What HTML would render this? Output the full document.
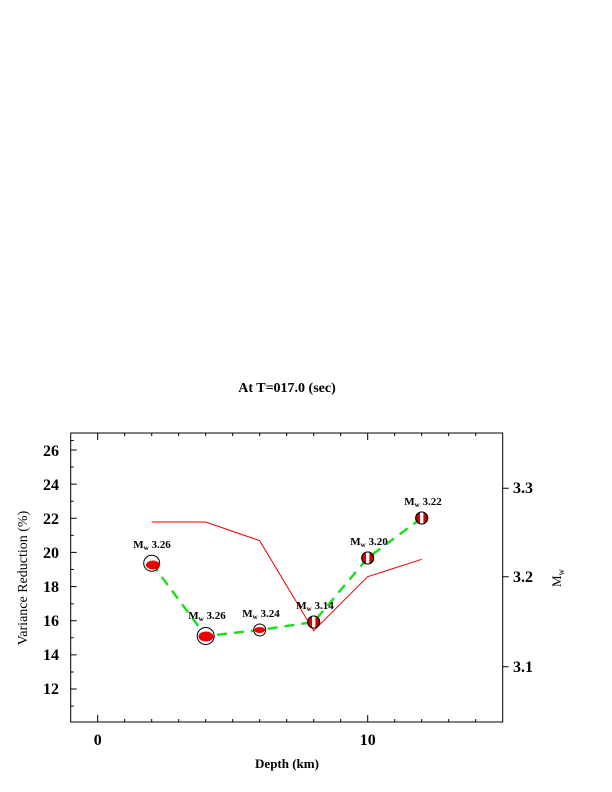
<!DOCTYPE html>
<html><head><meta charset="utf-8"><style>
html,body{margin:0;padding:0;background:#fff;}
svg{display:block;}
text{font-family:"Liberation Serif",serif;font-weight:bold;fill:#000;}
</style></head><body>
<svg width="612" height="792" viewBox="0 0 612 792" xmlns="http://www.w3.org/2000/svg">
<text x="287" y="392" font-size="14" text-anchor="middle">At T=017.0 (sec)</text>
<rect x="70.7" y="433" width="432" height="289" fill="none" stroke="#000" stroke-width="1"/>
<g stroke="#000" stroke-width="1">
<path d="M97.7 722v-7M124.7 722v-3M151.7 722v-3M178.7 722v-3M205.7 722v-3M232.7 722v-3M259.7 722v-3M286.7 722v-3M313.7 722v-3M340.7 722v-3M367.7 722v-7M394.7 722v-3M421.7 722v-3M448.7 722v-3M475.7 722v-3"/>
<path d="M97.7 433v7M124.7 433v3M151.7 433v3M178.7 433v3M205.7 433v3M232.7 433v3M259.7 433v3M286.7 433v3M313.7 433v3M340.7 433v3M367.7 433v7M394.7 433v3M421.7 433v3M448.7 433v3M475.7 433v3"/>
<path d="M70.7 450h6M70.7 484.1h6M70.7 518.3h6M70.7 552.4h6M70.7 586.6h6M70.7 620.7h6M70.7 654.9h6M70.7 689h6"/>
<path d="M70.7 467h3M70.7 501.2h3M70.7 535.4h3M70.7 569.5h3M70.7 603.7h3M70.7 637.8h3M70.7 672h3M70.7 706.1h3M70.7 440.5h3"/>
<path d="M502.7 488.3h6M502.7 576.7h6M502.7 666.7h6"/>
</g>
<g font-size="16" text-anchor="end">
<text x="59" y="456">26</text><text x="59" y="490">24</text><text x="59" y="524">22</text><text x="59" y="558">20</text>
<text x="59" y="592">18</text><text x="59" y="626">16</text><text x="59" y="660">14</text><text x="59" y="694">12</text>
</g>
<g font-size="16">
<text x="513" y="493">3.3</text><text x="513" y="582">3.2</text><text x="513" y="672">3.1</text>
</g>
<g font-size="16" text-anchor="middle">
<text x="97.7" y="745">0</text><text x="367.7" y="745">10</text>
</g>
<text x="287" y="768" font-size="13" text-anchor="middle">Depth (km)</text>
<text transform="translate(27,578) rotate(-90)" font-size="14" text-anchor="middle" style="font-weight:normal">Variance Reduction (%)</text>
<text transform="translate(561,578) rotate(-90)" font-size="13" text-anchor="middle" style="font-weight:normal">M<tspan font-size="9" dy="3">w</tspan></text>
<polyline points="151.7,522 205.7,522 259.7,540.7 313.7,630.7 367.7,576.7 421.7,559.3" fill="none" stroke="#e00" stroke-width="1"/>
<polyline points="151.7,563.3 205.7,636 259.7,630 313.7,622 367.7,558 421.7,518" fill="none" stroke="#2d2" stroke-width="2.5" stroke-dasharray="10,7"/>
<g stroke="#000" stroke-width="1">
<circle cx="151.7" cy="563.3" r="8" fill="#fff"/><ellipse cx="153" cy="565" rx="7" ry="4.5" fill="#e00" stroke="none"/>
<circle cx="205.7" cy="636" r="8.5" fill="#fff"/><ellipse cx="206" cy="636.5" rx="7.5" ry="5" fill="#e00" stroke="none"/>
<circle cx="259.7" cy="630" r="6" fill="#fff"/><ellipse cx="259.7" cy="630" rx="5.5" ry="3" fill="#e00" stroke="none"/>
<circle cx="313.7" cy="622" r="6" fill="#c00"/><rect x="312" y="616.5" width="3.4" height="11" fill="#fff" stroke="none"/>
<circle cx="367.7" cy="558" r="6" fill="#c00"/><rect x="366" y="552.5" width="3.4" height="11" fill="#fff" stroke="none"/>
<circle cx="421.7" cy="518" r="6" fill="#c00"/><rect x="420" y="512.5" width="3.4" height="11" fill="#fff" stroke="none"/>
<circle cx="313.7" cy="622" r="6" fill="none"/><circle cx="367.7" cy="558" r="6" fill="none"/><circle cx="421.7" cy="518" r="6" fill="none"/>
</g>
<g font-size="11" text-anchor="middle">
<text x="152" y="548">M<tspan font-size="7" dy="2">w</tspan><tspan dy="-2"> 3.26</tspan></text>
<text x="207" y="619">M<tspan font-size="7" dy="2">w</tspan><tspan dy="-2"> 3.26</tspan></text>
<text x="261" y="617">M<tspan font-size="7" dy="2">w</tspan><tspan dy="-2"> 3.24</tspan></text>
<text x="315" y="609">M<tspan font-size="7" dy="2">w</tspan><tspan dy="-2"> 3.14</tspan></text>
<text x="369" y="545">M<tspan font-size="7" dy="2">w</tspan><tspan dy="-2"> 3.20</tspan></text>
<text x="423" y="505">M<tspan font-size="7" dy="2">w</tspan><tspan dy="-2"> 3.22</tspan></text>
</g>
</svg>
</body></html>
